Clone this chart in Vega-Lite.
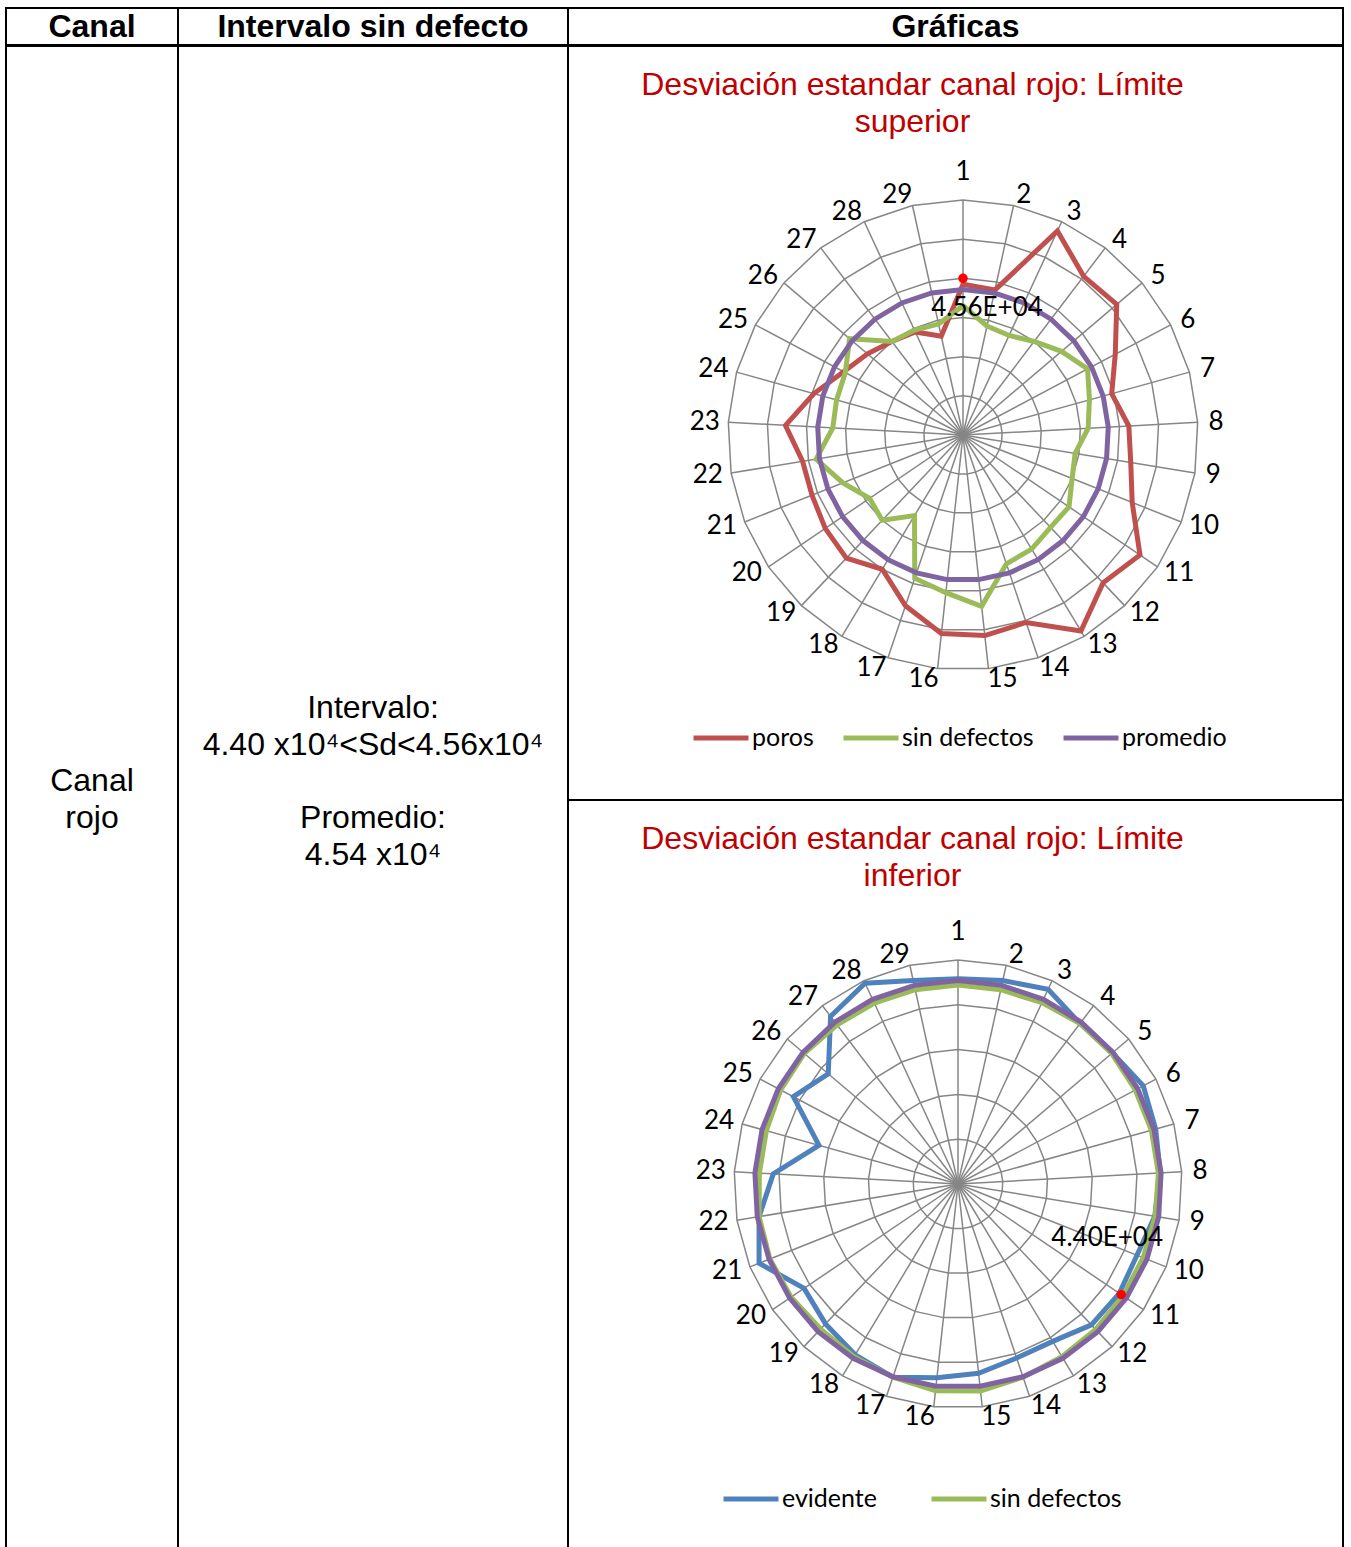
{
  "$schema": "https://vega.github.io/schema/vega-lite/v6.json",
  "background": "white",
  "padding": {"left": 5, "top": 7, "right": 0, "bottom": 0},
  "config": {
    "view": {"stroke": "#000000", "strokeWidth": 2},
    "concat": {"spacing": 0},
    "text": {"font": "Liberation Sans", "color": "#000000"}
  },
  "datasets": {
    "ejes": [
      {"k": 1, "anillos": [1, 2, 3, 4, 5, 6]}, {"k": 2, "anillos": [1, 2, 3, 4, 5, 6]}, {"k": 3, "anillos": [1, 2, 3, 4, 5, 6]},
      {"k": 4, "anillos": [1, 2, 3, 4, 5, 6]}, {"k": 5, "anillos": [1, 2, 3, 4, 5, 6]}, {"k": 6, "anillos": [1, 2, 3, 4, 5, 6]},
      {"k": 7, "anillos": [1, 2, 3, 4, 5, 6]}, {"k": 8, "anillos": [1, 2, 3, 4, 5, 6]}, {"k": 9, "anillos": [1, 2, 3, 4, 5, 6]},
      {"k": 10, "anillos": [1, 2, 3, 4, 5, 6]}, {"k": 11, "anillos": [1, 2, 3, 4, 5, 6]}, {"k": 12, "anillos": [1, 2, 3, 4, 5, 6]},
      {"k": 13, "anillos": [1, 2, 3, 4, 5, 6]}, {"k": 14, "anillos": [1, 2, 3, 4, 5, 6]}, {"k": 15, "anillos": [1, 2, 3, 4, 5, 6]},
      {"k": 16, "anillos": [1, 2, 3, 4, 5, 6]}, {"k": 17, "anillos": [1, 2, 3, 4, 5, 6]}, {"k": 18, "anillos": [1, 2, 3, 4, 5, 6]},
      {"k": 19, "anillos": [1, 2, 3, 4, 5, 6]}, {"k": 20, "anillos": [1, 2, 3, 4, 5, 6]}, {"k": 21, "anillos": [1, 2, 3, 4, 5, 6]},
      {"k": 22, "anillos": [1, 2, 3, 4, 5, 6]}, {"k": 23, "anillos": [1, 2, 3, 4, 5, 6]}, {"k": 24, "anillos": [1, 2, 3, 4, 5, 6]},
      {"k": 25, "anillos": [1, 2, 3, 4, 5, 6]}, {"k": 26, "anillos": [1, 2, 3, 4, 5, 6]}, {"k": 27, "anillos": [1, 2, 3, 4, 5, 6]},
      {"k": 28, "anillos": [1, 2, 3, 4, 5, 6]}, {"k": 29, "anillos": [1, 2, 3, 4, 5, 6]}
    ],
    "superior": [
      {"k": 1, "poros": 45495, "sin defectos": 45110, "promedio": 45400},
      {"k": 2, "poros": 45453, "sin defectos": 44795, "promedio": 45400},
      {"k": 3, "poros": 46818, "sin defectos": 44760, "promedio": 45400},
      {"k": 4, "poros": 46363, "sin defectos": 44900, "promedio": 45400},
      {"k": 5, "poros": 46405, "sin defectos": 45110, "promedio": 45400},
      {"k": 6, "poros": 45880, "sin defectos": 45320, "promedio": 45400},
      {"k": 7, "poros": 45558, "sin defectos": 45145, "promedio": 45400},
      {"k": 8, "poros": 45768, "sin defectos": 45040, "promedio": 45400},
      {"k": 9, "poros": 45838, "sin defectos": 44830, "promedio": 45400},
      {"k": 10, "poros": 46055, "sin defectos": 44900, "promedio": 45400},
      {"k": 11, "poros": 46622, "sin defectos": 45089, "promedio": 45400},
      {"k": 12, "poros": 46440, "sin defectos": 45075, "promedio": 45400},
      {"k": 13, "poros": 46888, "sin defectos": 45180, "promedio": 45400},
      {"k": 14, "poros": 46335, "sin defectos": 45229, "promedio": 45400},
      {"k": 15, "poros": 46405, "sin defectos": 45880, "promedio": 45400},
      {"k": 16, "poros": 46370, "sin defectos": 45635, "promedio": 45400},
      {"k": 17, "poros": 46020, "sin defectos": 45502, "promedio": 45400},
      {"k": 18, "poros": 45600, "sin defectos": 44480, "promedio": 45400},
      {"k": 19, "poros": 45831, "sin defectos": 44900, "promedio": 45400},
      {"k": 20, "poros": 45775, "sin defectos": 44816, "promedio": 45400},
      {"k": 21, "poros": 45705, "sin defectos": 45110, "promedio": 45400},
      {"k": 22, "poros": 45705, "sin defectos": 45460, "promedio": 45400},
      {"k": 23, "poros": 45978, "sin defectos": 45131, "promedio": 45400},
      {"k": 24, "poros": 45565, "sin defectos": 45145, "promedio": 45400},
      {"k": 25, "poros": 45215, "sin defectos": 45180, "promedio": 45400},
      {"k": 26, "poros": 45040, "sin defectos": 45460, "promedio": 45400},
      {"k": 27, "poros": 44900, "sin defectos": 44900, "promedio": 45400},
      {"k": 28, "poros": 44830, "sin defectos": 44865, "promedio": 45400},
      {"k": 29, "poros": 44606, "sin defectos": 44830, "promedio": 45400}
    ],
    "inferior": [
      {"k": 1, "evidente": 45800, "sin defectos": 44400, "promedio": 45400},
      {"k": 2, "evidente": 46500, "sin defectos": 44400, "promedio": 45400},
      {"k": 3, "evidente": 47900, "sin defectos": 44600, "promedio": 45400},
      {"k": 4, "evidente": 45000, "sin defectos": 45000, "promedio": 45400},
      {"k": 5, "evidente": 45200, "sin defectos": 45000, "promedio": 45400},
      {"k": 6, "evidente": 46800, "sin defectos": 44800, "promedio": 45400},
      {"k": 7, "evidente": 45800, "sin defectos": 44800, "promedio": 45400},
      {"k": 8, "evidente": 45200, "sin defectos": 44800, "promedio": 45400},
      {"k": 9, "evidente": 44500, "sin defectos": 44600, "promedio": 45400},
      {"k": 10, "evidente": 43000, "sin defectos": 44500, "promedio": 45400},
      {"k": 11, "evidente": 43500, "sin defectos": 44500, "promedio": 45400},
      {"k": 12, "evidente": 43300, "sin defectos": 44700, "promedio": 45400},
      {"k": 13, "evidente": 41000, "sin defectos": 45000, "promedio": 45400},
      {"k": 14, "evidente": 41000, "sin defectos": 45500, "promedio": 45400},
      {"k": 15, "evidente": 42500, "sin defectos": 46500, "promedio": 45400},
      {"k": 16, "evidente": 43500, "sin defectos": 46400, "promedio": 45400},
      {"k": 17, "evidente": 45500, "sin defectos": 45500, "promedio": 45400},
      {"k": 18, "evidente": 44500, "sin defectos": 45000, "promedio": 45400},
      {"k": 19, "evidente": 43000, "sin defectos": 44600, "promedio": 45400},
      {"k": 20, "evidente": 41500, "sin defectos": 45000, "promedio": 45400},
      {"k": 21, "evidente": 47800, "sin defectos": 45200, "promedio": 45400},
      {"k": 22, "evidente": 45000, "sin defectos": 45000, "promedio": 45400},
      {"k": 23, "evidente": 41300, "sin defectos": 44400, "promedio": 45400},
      {"k": 24, "evidente": 32200, "sin defectos": 44400, "promedio": 45400},
      {"k": 25, "evidente": 41600, "sin defectos": 44800, "promedio": 45400},
      {"k": 26, "evidente": 38000, "sin defectos": 45000, "promedio": 45400},
      {"k": 27, "evidente": 47000, "sin defectos": 44600, "promedio": 45400},
      {"k": 28, "evidente": 49400, "sin defectos": 44500, "promedio": 45400},
      {"k": 29, "evidente": 46500, "sin defectos": 44400, "promedio": 45400}
    ],
    "limite_sup": [{"k": 1, "valor": 45600, "etiqueta": "4.56E+04"}],
    "limite_inf": [{"k": 11, "valor": 44000, "etiqueta": "4.40E+04"}]
  },
  "spacing": -2,
  "vconcat": [
    {
      "spacing": 0,
      "bounds": "flush",
      "hconcat": [
        {"width": 172, "height": 37, "data": {"values": [{"celda": "h1", "t": "Canal"}]},
         "mark": {"type": "text", "fontWeight": "bold", "fontSize": 32, "baseline": "middle"},
         "encoding": {"x": {"field": "celda", "type": "nominal", "axis": null}, "y": {"field": "celda", "type": "nominal", "axis": null}, "text": {"field": "t", "type": "nominal"}}},
        {"width": 390, "height": 37, "data": {"values": [{"celda": "h2", "t": "Intervalo sin defecto"}]},
         "mark": {"type": "text", "fontWeight": "bold", "fontSize": 32, "baseline": "middle"},
         "encoding": {"x": {"field": "celda", "type": "nominal", "axis": null}, "y": {"field": "celda", "type": "nominal", "axis": null}, "text": {"field": "t", "type": "nominal"}}},
        {"width": 775, "height": 37, "data": {"values": [{"celda": "h3", "t": "Gráficas"}]},
         "mark": {"type": "text", "fontWeight": "bold", "fontSize": 32, "baseline": "middle"},
         "encoding": {"x": {"field": "celda", "type": "nominal", "axis": null}, "y": {"field": "celda", "type": "nominal", "axis": null}, "text": {"field": "t", "type": "nominal"}}}
      ]
    },
    {
      "spacing": 0,
      "bounds": "flush",
      "hconcat": [
        {"width": 172, "height": 1506, "data": {"values": [{"celda": "canal", "t": ["Canal", "rojo"]}]},
         "mark": {"type": "text", "fontSize": 32, "lineHeight": 37, "baseline": "middle", "dy": -18},
         "encoding": {"x": {"field": "celda", "type": "nominal", "axis": null}, "y": {"field": "celda", "type": "nominal", "axis": null}, "text": {"field": "t", "type": "nominal"}}},
        {"width": 390, "height": 1506,
         "data": {"values": [
           {"celda": "intervalo", "bloque": "intervalo", "t": ["Intervalo:", "4.40 x10⁴<Sd<4.56x10⁴"]},
           {"celda": "intervalo", "bloque": "promedio", "t": ["Promedio:", "4.54 x10⁴"]}
         ]},
         "layer": [
           {"transform": [{"filter": "datum.bloque == 'intervalo'"}],
            "mark": {"type": "text", "fontSize": 32, "lineHeight": 36.5, "baseline": "middle", "dy": -91},
            "encoding": {"x": {"field": "celda", "type": "nominal", "axis": null}, "y": {"field": "celda", "type": "nominal", "axis": null}, "text": {"field": "t", "type": "nominal"}}},
           {"transform": [{"filter": "datum.bloque == 'promedio'"}],
            "mark": {"type": "text", "fontSize": 32, "lineHeight": 36.5, "baseline": "middle", "dy": 19},
            "encoding": {"x": {"field": "celda", "type": "nominal", "axis": null}, "y": {"field": "celda", "type": "nominal", "axis": null}, "text": {"field": "t", "type": "nominal"}}}
         ]},
        {
          "spacing": 0,
          "bounds": "flush",
          "vconcat": [
            {
              "width": 775, "height": 754,
              "title": {"text": ["Desviación estandar canal rojo: Límite", "superior"], "color": "#C00000", "font": "Liberation Sans", "fontSize": 32, "fontWeight": "normal", "lineHeight": 37, "anchor": "middle", "offset": -93, "dx": -43},
              "layer": [
                {
                  "data": {"name": "ejes"},
                  "transform": [
                    {"calculate": "(datum.k - 1) * 2 * PI / 29", "as": "ang"},
                    {"calculate": "0", "as": "x0"},
                    {"calculate": "0", "as": "y0"},
                    {"calculate": "sin(datum.ang)", "as": "x"},
                    {"calculate": "cos(datum.ang)", "as": "y"}
                  ],
                  "mark": {"type": "rule", "color": "#868686", "strokeWidth": 1.5},
                  "encoding": {
                    "x": {"field": "x0", "type": "quantitative", "scale": {"domain": [-1.68085, 1.61702], "nice": false, "zero": false}, "axis": null},
                    "y": {"field": "y0", "type": "quantitative", "scale": {"domain": [-1.55319, 1.65532], "nice": false, "zero": false}, "axis": null},
                    "x2": {"field": "x"},
                    "y2": {"field": "y"}
                  }
                },
                {
                  "data": {"name": "ejes"},
                  "transform": [
                    {"flatten": ["anillos"], "as": ["anillo"]},
                    {"calculate": "(datum.k - 1) * 2 * PI / 29", "as": "ang"},
                    {"calculate": "datum.anillo / 6 * sin(datum.ang)", "as": "x"},
                    {"calculate": "datum.anillo / 6 * cos(datum.ang)", "as": "y"}
                  ],
                  "mark": {"type": "line", "color": "#868686", "strokeWidth": 1.5, "interpolate": "linear-closed"},
                  "encoding": {
                    "x": {"field": "x", "type": "quantitative", "scale": {"domain": [-1.68085, 1.61702], "nice": false, "zero": false}, "axis": null},
                    "y": {"field": "y", "type": "quantitative", "scale": {"domain": [-1.55319, 1.65532], "nice": false, "zero": false}, "axis": null},
                    "detail": {"field": "anillo", "type": "nominal"},
                    "order": {"field": "k", "type": "quantitative"}
                  }
                },
                {
                  "data": {"name": "superior"},
                  "transform": [
                    {"fold": ["poros", "sin defectos", "promedio"], "as": ["serie", "valor"]},
                    {"calculate": "(datum.k - 1) * 2 * PI / 29", "as": "ang"},
                    {"calculate": "(datum.valor - 42800) / 4200", "as": "r"},
                    {"calculate": "datum.r * sin(datum.ang)", "as": "x"},
                    {"calculate": "datum.r * cos(datum.ang)", "as": "y"}
                  ],
                  "mark": {"type": "line", "strokeWidth": 5, "interpolate": "linear-closed"},
                  "encoding": {
                    "x": {"field": "x", "type": "quantitative", "scale": {"domain": [-1.68085, 1.61702], "nice": false, "zero": false}, "axis": null},
                    "y": {"field": "y", "type": "quantitative", "scale": {"domain": [-1.55319, 1.65532], "nice": false, "zero": false}, "axis": null},
                    "color": {
                      "field": "serie", "type": "nominal",
                      "scale": {"domain": ["poros", "sin defectos", "promedio"], "range": ["#C0504D", "#9BBB59", "#8064A2"]},
                      "legend": {"title": null, "orient": "none", "legendX": 123, "legendY": 662, "direction": "horizontal", "symbolType": "stroke", "symbolSize": 3025, "symbolStrokeWidth": 5, "labelFont": "Lato", "labelFontSize": 25, "labelColor": "#000000", "labelOffset": 1, "columnPadding": 19, "labelLimit": 0}
                    },
                    "order": {"field": "k", "type": "quantitative"}
                  }
                },
                {
                  "data": {"name": "limite_sup"},
                  "transform": [
                    {"calculate": "(datum.k - 1) * 2 * PI / 29", "as": "ang"},
                    {"calculate": "(datum.valor - 42800) / 4200", "as": "r"},
                    {"calculate": "datum.r * sin(datum.ang)", "as": "x"},
                    {"calculate": "datum.r * cos(datum.ang)", "as": "y"}
                  ],
                  "mark": {"type": "point", "filled": true, "color": "#FF0000", "opacity": 1, "size": 90},
                  "encoding": {
                    "x": {"field": "x", "type": "quantitative", "scale": {"domain": [-1.68085, 1.61702], "nice": false, "zero": false}, "axis": null},
                    "y": {"field": "y", "type": "quantitative", "scale": {"domain": [-1.55319, 1.65532], "nice": false, "zero": false}, "axis": null}
                  }
                },
                {
                  "data": {"name": "limite_sup"},
                  "transform": [
                    {"calculate": "(datum.k - 1) * 2 * PI / 29", "as": "ang"},
                    {"calculate": "(datum.valor - 42800) / 4200", "as": "r"},
                    {"calculate": "datum.r * sin(datum.ang)", "as": "x"},
                    {"calculate": "datum.r * cos(datum.ang)", "as": "y"}
                  ],
                  "mark": {"type": "text", "font": "Lato", "fontSize": 26, "dx": 24, "dy": 30, "baseline": "middle"},
                  "encoding": {
                    "x": {"field": "x", "type": "quantitative", "scale": {"domain": [-1.68085, 1.61702], "nice": false, "zero": false}, "axis": null},
                    "y": {"field": "y", "type": "quantitative", "scale": {"domain": [-1.55319, 1.65532], "nice": false, "zero": false}, "axis": null},
                    "text": {"field": "etiqueta", "type": "nominal"}
                  }
                },
                {
                  "data": {"name": "ejes"},
                  "transform": [
                    {"calculate": "(datum.k - 1) * 2 * PI / 29", "as": "ang"},
                    {"calculate": "datum.k == 1 ? 0 : (sin(datum.ang) > 0 ? 1 : -1) * ((datum.k >= 10 ? 13 : 8) + 10.5 * abs(sin(datum.ang)))", "as": "ox"},
                    {"calculate": "datum.k == 1 ? 28 : 10.5 * cos(datum.ang)", "as": "oy"},
                    {"calculate": "sin(datum.ang) + datum.ox / 235", "as": "x"},
                    {"calculate": "cos(datum.ang) + datum.oy / 235", "as": "y"}
                  ],
                  "mark": {"type": "text", "font": "Lato", "fontSize": 26, "baseline": "middle", "align": "center"},
                  "encoding": {
                    "x": {"field": "x", "type": "quantitative", "scale": {"domain": [-1.68085, 1.61702], "nice": false, "zero": false}, "axis": null},
                    "y": {"field": "y", "type": "quantitative", "scale": {"domain": [-1.55319, 1.65532], "nice": false, "zero": false}, "axis": null},
                    "text": {"field": "k", "type": "nominal"}
                  }
                }
              ]
            },
            {
              "width": 775, "height": 752,
              "title": {"text": ["Desviación estandar canal rojo: Límite", "inferior"], "color": "#C00000", "font": "Liberation Sans", "fontSize": 32, "fontWeight": "normal", "lineHeight": 37, "anchor": "middle", "offset": -93, "dx": -43},
              "layer": [
                {
                  "data": {"name": "ejes"},
                  "transform": [
                    {"calculate": "(datum.k - 1) * 2 * PI / 29", "as": "ang"},
                    {"calculate": "0", "as": "x0"},
                    {"calculate": "0", "as": "y0"},
                    {"calculate": "sin(datum.ang)", "as": "x"},
                    {"calculate": "cos(datum.ang)", "as": "y"}
                  ],
                  "mark": {"type": "rule", "color": "#868686", "strokeWidth": 1.5},
                  "encoding": {
                    "x": {"field": "x0", "type": "quantitative", "scale": {"domain": [-1.74107, 1.71875], "nice": false, "zero": false}, "axis": null},
                    "y": {"field": "y0", "type": "quantitative", "scale": {"domain": [-1.64286, 1.71429], "nice": false, "zero": false}, "axis": null},
                    "x2": {"field": "x"},
                    "y2": {"field": "y"}
                  }
                },
                {
                  "data": {"name": "ejes"},
                  "transform": [
                    {"flatten": ["anillos"], "as": ["anillo"]},
                    {"filter": "datum.anillo <= 5"},
                    {"calculate": "(datum.k - 1) * 2 * PI / 29", "as": "ang"},
                    {"calculate": "datum.anillo / 5 * sin(datum.ang)", "as": "x"},
                    {"calculate": "datum.anillo / 5 * cos(datum.ang)", "as": "y"}
                  ],
                  "mark": {"type": "line", "color": "#868686", "strokeWidth": 1.5, "interpolate": "linear-closed"},
                  "encoding": {
                    "x": {"field": "x", "type": "quantitative", "scale": {"domain": [-1.74107, 1.71875], "nice": false, "zero": false}, "axis": null},
                    "y": {"field": "y", "type": "quantitative", "scale": {"domain": [-1.64286, 1.71429], "nice": false, "zero": false}, "axis": null},
                    "detail": {"field": "anillo", "type": "nominal"},
                    "order": {"field": "k", "type": "quantitative"}
                  }
                },
                {
                  "data": {"name": "inferior"},
                  "transform": [
                    {"fold": ["evidente", "sin defectos", "promedio"], "as": ["serie", "valor"]},
                    {"calculate": "(datum.k - 1) * 2 * PI / 29", "as": "ang"},
                    {"calculate": "datum.valor / 50000", "as": "r"},
                    {"calculate": "datum.r * sin(datum.ang)", "as": "x"},
                    {"calculate": "datum.r * cos(datum.ang)", "as": "y"}
                  ],
                  "mark": {"type": "line", "strokeWidth": 5, "interpolate": "linear-closed"},
                  "encoding": {
                    "x": {"field": "x", "type": "quantitative", "scale": {"domain": [-1.74107, 1.71875], "nice": false, "zero": false}, "axis": null},
                    "y": {"field": "y", "type": "quantitative", "scale": {"domain": [-1.64286, 1.71429], "nice": false, "zero": false}, "axis": null},
                    "color": {
                      "field": "serie", "type": "nominal",
                      "scale": {"domain": ["evidente", "sin defectos", "promedio"], "range": ["#4F81BD", "#9BBB59", "#8064A2"]},
                      "legend": {"title": null, "values": ["evidente", "sin defectos"], "orient": "none", "legendX": 153, "legendY": 669, "direction": "horizontal", "symbolType": "stroke", "symbolSize": 3025, "symbolStrokeWidth": 5, "labelFont": "Lato", "labelFontSize": 25, "labelColor": "#000000", "labelOffset": 1, "columnPadding": 44, "labelLimit": 0}
                    },
                    "order": {"field": "k", "type": "quantitative"}
                  }
                },
                {
                  "data": {"name": "limite_inf"},
                  "transform": [
                    {"calculate": "(datum.k - 1) * 2 * PI / 29", "as": "ang"},
                    {"calculate": "datum.valor / 50000", "as": "r"},
                    {"calculate": "datum.r * sin(datum.ang)", "as": "x"},
                    {"calculate": "datum.r * cos(datum.ang)", "as": "y"}
                  ],
                  "mark": {"type": "point", "filled": true, "color": "#FF0000", "opacity": 1, "size": 90},
                  "encoding": {
                    "x": {"field": "x", "type": "quantitative", "scale": {"domain": [-1.74107, 1.71875], "nice": false, "zero": false}, "axis": null},
                    "y": {"field": "y", "type": "quantitative", "scale": {"domain": [-1.64286, 1.71429], "nice": false, "zero": false}, "axis": null}
                  }
                },
                {
                  "data": {"name": "limite_inf"},
                  "transform": [
                    {"calculate": "(datum.k - 1) * 2 * PI / 29", "as": "ang"},
                    {"calculate": "datum.valor / 50000", "as": "r"},
                    {"calculate": "datum.r * sin(datum.ang)", "as": "x"},
                    {"calculate": "datum.r * cos(datum.ang)", "as": "y"}
                  ],
                  "mark": {"type": "text", "font": "Lato", "fontSize": 26, "dx": -14, "dy": -57, "baseline": "middle"},
                  "encoding": {
                    "x": {"field": "x", "type": "quantitative", "scale": {"domain": [-1.74107, 1.71875], "nice": false, "zero": false}, "axis": null},
                    "y": {"field": "y", "type": "quantitative", "scale": {"domain": [-1.64286, 1.71429], "nice": false, "zero": false}, "axis": null},
                    "text": {"field": "etiqueta", "type": "nominal"}
                  }
                },
                {
                  "data": {"name": "ejes"},
                  "transform": [
                    {"calculate": "(datum.k - 1) * 2 * PI / 29", "as": "ang"},
                    {"calculate": "datum.k == 1 ? 0 : (sin(datum.ang) > 0 ? 1 : -1) * ((datum.k >= 10 ? 13 : 8) + 10.5 * abs(sin(datum.ang)))", "as": "ox"},
                    {"calculate": "datum.k == 1 ? 28 : 10.5 * cos(datum.ang)", "as": "oy"},
                    {"calculate": "sin(datum.ang) + datum.ox / 224", "as": "x"},
                    {"calculate": "cos(datum.ang) + datum.oy / 224", "as": "y"}
                  ],
                  "mark": {"type": "text", "font": "Lato", "fontSize": 26, "baseline": "middle", "align": "center"},
                  "encoding": {
                    "x": {"field": "x", "type": "quantitative", "scale": {"domain": [-1.74107, 1.71875], "nice": false, "zero": false}, "axis": null},
                    "y": {"field": "y", "type": "quantitative", "scale": {"domain": [-1.64286, 1.71429], "nice": false, "zero": false}, "axis": null},
                    "text": {"field": "k", "type": "nominal"}
                  }
                }
              ]
            }
          ],
          "resolve": {"scale": {"color": "independent"}, "legend": {"color": "independent"}}
        }
      ]
    }
  ]
}
